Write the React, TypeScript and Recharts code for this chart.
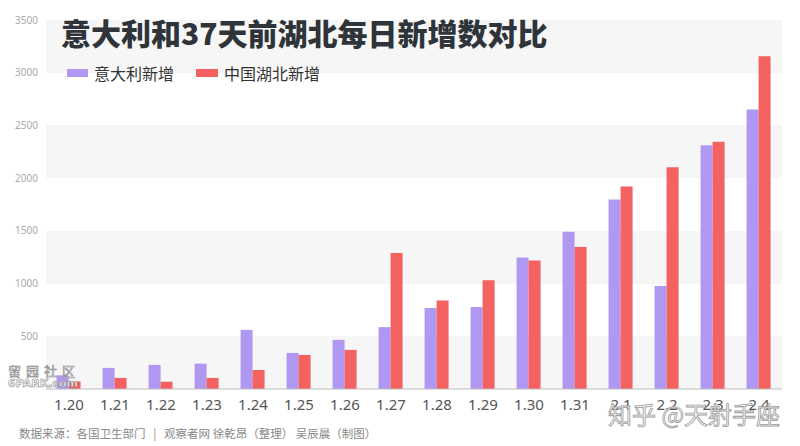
import { BarChart, Bar, XAxis, YAxis, CartesianGrid } from 'recharts';

// 日期（湖北）对应 37 天后的意大利
const days = ['1.20', '1.21', '1.22', '1.23', '1.24', '1.25', '1.26', '1.27', '1.28', '1.29', '1.30', '1.31', '2.1', '2.2', '2.3', '2.4'];
const italyNew = [130, 200, 229, 241, 561, 342, 466, 587, 769, 778, 1247, 1492, 1797, 977, 2313, 2651];
const hubeiNew = [72, 105, 69, 105, 180, 323, 371, 1291, 840, 1032, 1220, 1347, 1921, 2103, 2345, 3156];
const yTicks = [0, 500, 1000, 1500, 2000, 2500, 3000, 3500];

const PURPLE = '#b097f1';
const RED = '#f46161';

export default function App() {
  const data = days.map((d, i) => ({ day: d, italy: italyNew[i], hubei: hubeiNew[i] }));

  return (
    <div style={{ position: 'fixed', left: 0, top: 0, width: 800, height: 446, background: '#fff', fontFamily: '"Noto Sans CJK SC", "Noto Sans", sans-serif' }}>
      <BarChart
        width={800}
        height={446}
        data={data}
        margin={{ top: 20, right: 18, left: 0, bottom: 27 }}
        barCategoryGap="23%"
        barGap={0}
      >
        <CartesianGrid
          vertical={false}
          stroke="transparent"
          horizontalFill={['#f6f6f6', '#ffffff']}
        />
        <XAxis
          dataKey="day"
          height={30}
          tickLine={false}
          tickMargin={4}
          axisLine={{ stroke: '#bdbdbd' }}
          interval={0}
          tick={{ fill: '#555', fontSize: 15, fontFamily: '"Noto Sans", sans-serif' }}
        />
        <YAxis
          width={46}
          domain={[0, 3500]}
          ticks={yTicks}
          axisLine={false}
          tickLine={false}
          tickFormatter={(v) => (v === 0 ? '' : String(v))}
          tick={{ fill: '#aaa', fontSize: 10, fontFamily: '"Noto Sans", sans-serif' }}
        />
        <Bar dataKey="italy" fill={PURPLE} isAnimationActive={false} />
        <Bar dataKey="hubei" fill={RED} isAnimationActive={false} />
      </BarChart>

      <div style={{ position: 'absolute', left: 61, top: 12, fontSize: 30, fontWeight: 900, color: '#2e3439', lineHeight: '40px', whiteSpace: 'nowrap' }}>
        意大利和37天前湖北每日新增数对比
      </div>

      <div style={{ position: 'absolute', left: 67, top: 62, display: 'flex', alignItems: 'center', fontSize: 16, color: '#333', lineHeight: '22px', whiteSpace: 'nowrap' }}>
        <span style={{ display: 'inline-block', width: 21, height: 8, background: PURPLE, marginRight: 6 }} />
        <span>意大利新增</span>
        <span style={{ display: 'inline-block', width: 22, height: 8, background: RED, marginLeft: 22, marginRight: 6 }} />
        <span>中国湖北新增</span>
      </div>

      <div style={{ position: 'absolute', left: 19, top: 425, fontSize: 11.5, color: '#888', lineHeight: '16px', whiteSpace: 'pre' }}>
        数据来源：各国卫生部门   |   观察者网 徐乾昂（整理） 吴辰晨（制图）
      </div>

      <div style={{ position: 'absolute', left: 608, top: 400, fontSize: 24, color: 'rgba(255,255,255,0.85)', WebkitTextStroke: '0.8px #9a9a9a', lineHeight: '28px', whiteSpace: 'nowrap' }}>
        知乎 @天射手座
      </div>

      <div style={{ position: 'absolute', left: 8, top: 364, color: 'rgba(255,255,255,0.85)', WebkitTextStroke: '0.6px #888', lineHeight: '13px', whiteSpace: 'nowrap' }}>
        <div style={{ fontSize: 13, letterSpacing: 5 }}>留园社区</div>
        <div style={{ fontSize: 11, fontWeight: 700, fontFamily: 'Verdana, "DejaVu Sans", sans-serif' }}>6PARK.com</div>
      </div>
    </div>
  );
}
